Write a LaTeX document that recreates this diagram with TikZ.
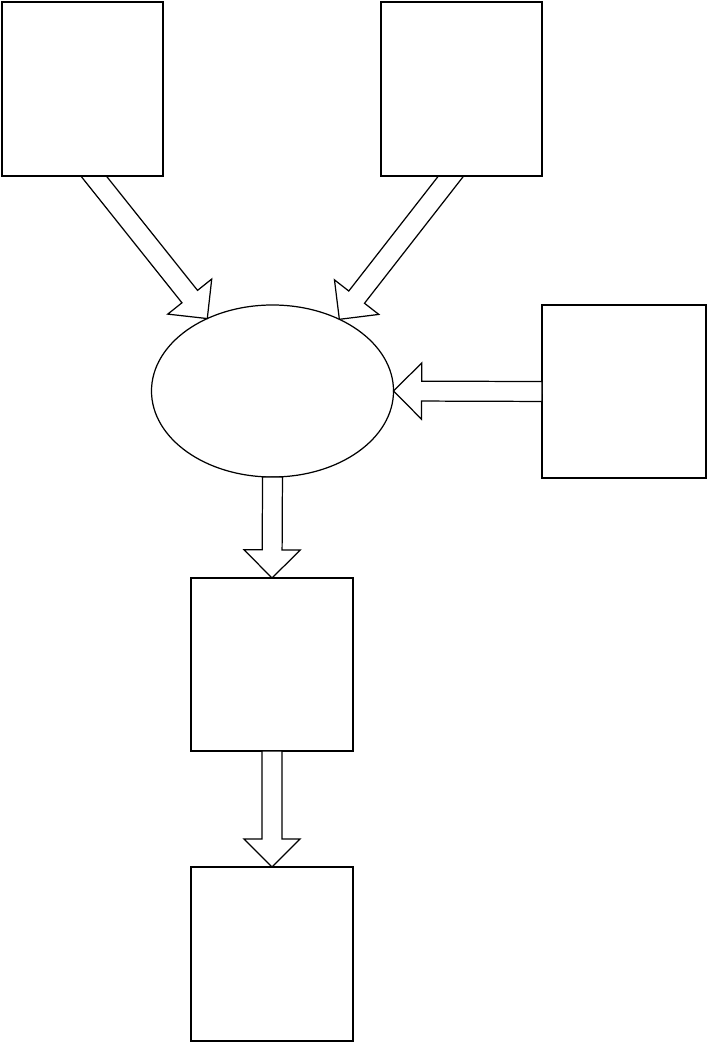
\documentclass[tikz,border=0pt]{standalone}
\usetikzlibrary{calc,shapes.geometric}
\tikzset{
  box/.style={draw, fill=white, line width=1.1pt, inner sep=0pt, outer sep=0pt, minimum width=#1*0.03cm},
  bh/.style={minimum height=#1*0.03cm},
  arr/.style={draw, line width=1.05pt, fill=white, line join=miter},
  oval/.style={draw, ellipse, line width=1.05pt, inner sep=0pt, outer sep=0pt}
}
\newcommand\blockarr[2]{%
  \coordinate (hh) at ($(#2)!24pt!(#1)$);
  \draw[arr] ($(#1)!8.5pt!90:(#2)$) -- ($(hh)!8.5pt!90:(#2)$) -- ($(hh)!24pt!90:(#2)$)
    -- (#2) -- ($(hh)!24pt!-90:(#2)$) -- ($(hh)!8.5pt!-90:(#2)$) -- ($(#1)!8.5pt!-90:(#2)$) -- cycle;
}
\begin{document}
\begin{tikzpicture}[x=0.03cm, y=-0.03cm]
  \useasboundingbox (0,0) rectangle (708,1044);
  \path (82.5,89) coordinate (Ac) (461.5,89) coordinate (Bc);
  \node[oval, minimum width=7.26cm, minimum height=5.16cm] (E) at (272.5,391) {};
  \coordinate (a1) at ($(Ac)+(5.5,80)$);
  \coordinate (b1) at ($(Bc)+(-5,80)$);
  \blockarr{a1}{E.132.5}
  \blockarr{b1}{E.47}
  \node[box=161, bh=174] (A) at (Ac) {};
  \node[box=161, bh=174] (B) at (Bc) {};
  \node[box=164, bh=173] (C) at (624,391.5) {};
  \node[box=162, bh=173] (D) at (272,664.5) {};
  \node[box=162, bh=174] (F) at (272,954) {};
  \blockarr{C.west}{E.east}
  \blockarr{E.south}{D.north}
  \blockarr{D.south}{F.north}
\end{tikzpicture}
\end{document}
